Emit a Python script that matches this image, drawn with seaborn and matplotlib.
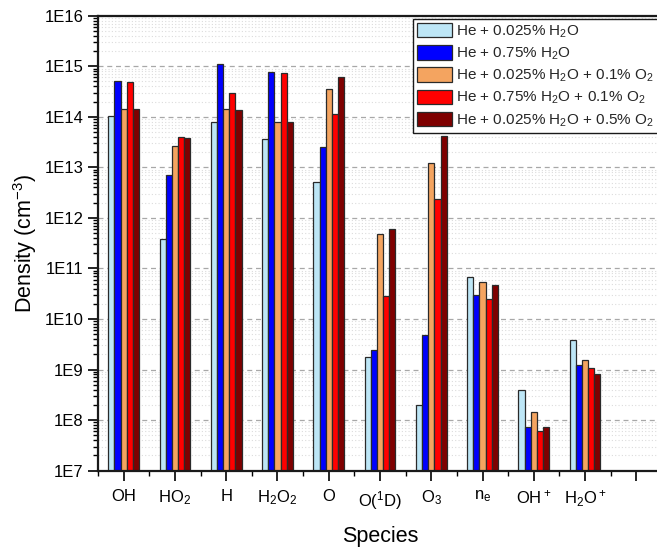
import numpy as np
import pandas as pd
import matplotlib
matplotlib.use("Agg")
import matplotlib.pyplot as plt
from matplotlib.ticker import FixedLocator, FuncFormatter, LogLocator, NullFormatter
import seaborn as sns

species = ['OH', 'HO$_2$', 'H', 'H$_2$O$_2$', 'O', 'O($^1$D)', 'O$_3$', 'n$_e$', 'OH$^+$', 'H$_2$O$^+$']
mixtures = ['He + 0.025% H$_2$O', 'He + 0.75% H$_2$O',
            'He + 0.025% H$_2$O + 0.1% O$_2$', 'He + 0.75% H$_2$O + 0.1% O$_2$',
            'He + 0.025% H$_2$O + 0.5% O$_2$']

he_0025_h2o = [1.05e14, 3.8e11, 7.8e13, 3.6e13, 5.2e12, 1.76e9, 2.0e8, 6.8e10, 3.9e8, 3.9e9]
he_075_h2o = [5.2e14, 7.2e12, 1.1e15, 7.7e14, 2.5e13, 2.4e9, 4.9e9, 2.95e10, 7.4e7, 1.26e9]
he_0025_h2o_01_o2 = [1.45e14, 2.7e13, 1.45e14, 7.8e13, 3.5e14, 4.9e11, 1.24e13, 5.5e10, 1.44e8, 1.53e9]
he_075_h2o_01_o2 = [4.9e14, 4.0e13, 3.0e14, 7.5e14, 1.12e14, 2.9e10, 2.36e12, 2.5e10, 6.1e7, 1.06e9]
he_0025_h2o_05_o2 = [1.45e14, 3.8e13, 1.35e14, 8.0e13, 6.2e14, 6.1e11, 4.2e13, 4.7e10, 7.4e7, 8.2e8]

colors = ['#BDE6F6', '#0000FF', '#F4A460', '#FF0000', '#7F0000']

series = [he_0025_h2o, he_075_h2o, he_0025_h2o_01_o2, he_075_h2o_01_o2, he_0025_h2o_05_o2]
rows = []
for mix, vals in zip(mixtures, series):
    for sp, v in zip(species, vals):
        rows.append({'species': sp, 'mix': mix, 'density': v})
df = pd.DataFrame(rows)

sns.set_theme(style='ticks')
plt.rcParams['font.family'] = ['Liberation Sans', 'DejaVu Sans']
plt.rcParams['mathtext.default'] = 'regular'
plt.rcParams['mathtext.fontset'] = 'custom'
plt.rcParams['mathtext.rm'] = 'Liberation Sans'
plt.rcParams['mathtext.it'] = 'Liberation Sans:italic'
plt.rcParams['mathtext.bf'] = 'Liberation Sans:bold'

fig = plt.figure(figsize=(6.57, 5.48), dpi=100)
ax = fig.add_axes([0.1492, 0.1411, 0.8584, 0.8302])
ax.set_yscale('log')

sns.barplot(data=df, x='species', y='density', hue='mix', order=species,
            hue_order=mixtures, palette=dict(zip(mixtures, colors)),
            saturation=1, width=0.6, edgecolor='#2a2a2a', linewidth=0.9,
            errorbar=None, ax=ax)

ax.set_ylim(1e7, 1e16)
ax.set_xlim(-0.5, 10.5)

ax.yaxis.set_major_locator(FixedLocator([10.0 ** k for k in range(7, 17)]))
ax.yaxis.set_major_formatter(FuncFormatter(lambda v, p: f'1E{int(round(np.log10(v)))}'))
ax.yaxis.set_minor_locator(LogLocator(base=10, subs=np.arange(2, 10), numticks=100))
ax.yaxis.set_minor_formatter(NullFormatter())

ax.xaxis.set_major_locator(FixedLocator(list(range(11))))
ax.set_xticklabels(species + [''])
ax.xaxis.set_minor_locator(FixedLocator(np.arange(-0.5, 11, 1.0)))

ax.tick_params(axis='both', which='major', direction='out', length=7, width=1.2,
               color='black', labelsize=12, labelcolor='black')
ax.tick_params(axis='both', which='minor', direction='out', length=3.5, width=1.0,
               color='black')
ax.tick_params(axis='x', which='major', pad=6)

ax.set_axisbelow(True)
ax.grid(True, which='major', axis='y', linestyle=(0, (4, 3)), color='#a8a8a8', linewidth=0.9)
ax.grid(True, which='minor', axis='y', linestyle=(0, (1, 2)), color='#dcdcdc', linewidth=0.8)
ax.grid(False, axis='x', which='both')

for side in ['left', 'bottom', 'top', 'right']:
    ax.spines[side].set_visible(True)
    ax.spines[side].set_color('#1a1a1a')
    ax.spines[side].set_linewidth(1.6)

ax.set_xlabel('Species', fontsize=15.5, labelpad=10, color='black')
ax.set_ylabel('Density (cm$^{-3}$)', fontsize=15.5, labelpad=4, color='black')

handles, labels = ax.get_legend_handles_labels()
leg = ax.legend(handles, labels, loc='upper right', bbox_to_anchor=(0.993, 0.993),
                fontsize=11, frameon=True, fancybox=False, framealpha=1,
                edgecolor='#1a1a1a', handlelength=2.3, handleheight=1.1,
                handletextpad=0.3, labelspacing=0.35, borderpad=0.25,
                borderaxespad=0.0)
leg.get_frame().set_linewidth(1.0)

fig.savefig('out.png', dpi=100)
